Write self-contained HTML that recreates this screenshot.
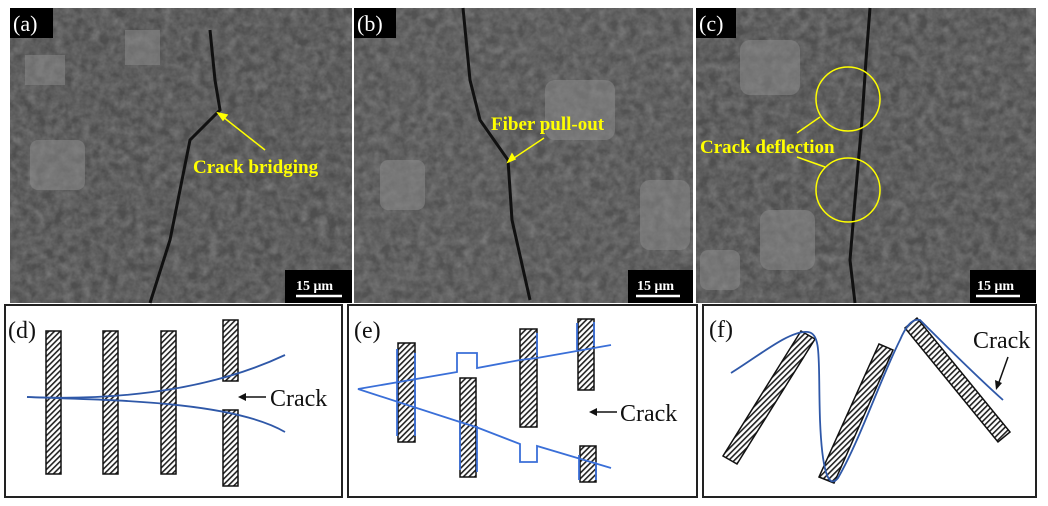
<!DOCTYPE html>
<html><head><meta charset="utf-8"><style>html,body{margin:0;padding:0;background:#fff}svg{display:block}</style></head><body>
<svg width="1048" height="506" viewBox="0 0 1048 506" xmlns="http://www.w3.org/2000/svg" font-family="Liberation Serif, serif">
<defs>
<filter id="sem" x="0" y="0" width="100%" height="100%">
<feTurbulence type="fractalNoise" baseFrequency="0.11" numOctaves="3" seed="4"/>
<feColorMatrix type="matrix" values="0 0 0 0 0.25  0 0 0 0 0.25  0 0 0 0 0.25  1 1 0 0 -0.6"/>
</filter>
<pattern id="h" width="4" height="4" patternUnits="userSpaceOnUse" patternTransform="rotate(45)">
<rect width="4" height="4" fill="#fff"/><rect width="1.6" height="4" fill="#222"/></pattern>
</defs>
<g>
<rect x="10" y="8" width="342" height="295" fill="#4e4e4e"/>
<rect x="10" y="8" width="342" height="295" fill="#fff" filter="url(#sem)" opacity="0.7"/>
<rect x="354" y="8" width="339" height="295" fill="#525252"/>
<rect x="354" y="8" width="339" height="295" fill="#fff" filter="url(#sem)" opacity="0.7"/>
<rect x="696" y="8" width="340" height="295" fill="#4f4f4f"/>
<rect x="696" y="8" width="340" height="295" fill="#fff" filter="url(#sem)" opacity="0.7"/>
<g fill="#8a8a8a" opacity="0.55">
<rect x="30" y="140" width="55" height="50" rx="8"/><rect x="125" y="30" width="35" height="35"/><rect x="25" y="55" width="40" height="30"/>
<rect x="380" y="160" width="45" height="50" rx="8"/><rect x="545" y="80" width="70" height="60" rx="10"/><rect x="640" y="180" width="50" height="70" rx="10"/>
<rect x="740" y="40" width="60" height="55" rx="10"/><rect x="760" y="210" width="55" height="60" rx="10"/><rect x="700" y="250" width="40" height="40" rx="8"/>
</g>
<path d="M210 30 L215 80 L220 110 L190 140 L180 190 L170 240 L150 303" stroke="#111" stroke-width="3" fill="none"/>
<path d="M463 8 L470 80 L480 120 L508 160 L512 220 L530 300" stroke="#111" stroke-width="3" fill="none"/>
<path d="M870 8 L866 60 L862 120 L855 200 L850 260 L855 303" stroke="#111" stroke-width="3" fill="none"/>
<rect x="10" y="8" width="43" height="30" fill="#000"/><text x="13" y="31" font-size="22" fill="#fff">(a)</text>
<rect x="354" y="8" width="42" height="30" fill="#000"/><text x="357" y="31" font-size="22" fill="#fff">(b)</text>
<rect x="696" y="8" width="40" height="30" fill="#000"/><text x="699" y="31" font-size="22" fill="#fff">(c)</text>
<g fill="#000"><rect x="285" y="270" width="67" height="33"/><rect x="628" y="270" width="65" height="33"/><rect x="970" y="270" width="66" height="33"/></g>
<g fill="#fff" font-size="14" font-weight="bold"><text x="296" y="290">15 μm</text><text x="637" y="290">15 μm</text><text x="977" y="290">15 μm</text></g>
<g stroke="#fff" stroke-width="2.5"><line x1="296" y1="296" x2="342" y2="296"/><line x1="636" y1="296" x2="680" y2="296"/><line x1="976" y1="296" x2="1020" y2="296"/></g>
<g fill="#ffff00" font-size="19" font-weight="bold">
<text x="193" y="173">Crack bridging</text>
<text x="491" y="130">Fiber pull-out</text>
<text x="700" y="153">Crack deflection</text>
</g>
<g stroke="#ffff00" stroke-width="1.5" fill="none">
<line x1="265" y1="150" x2="218" y2="113"/><path d="M218 113 l9 2 l-4 5z" fill="#ffff00"/>
<line x1="544" y1="138" x2="508" y2="162"/><path d="M508 162 l4 -8 l3 5z" fill="#ffff00"/>
<circle cx="848" cy="99" r="32"/><circle cx="848" cy="190" r="32"/>
<line x1="820" y1="117" x2="797" y2="133"/><line x1="825" y1="167" x2="797" y2="157"/>
</g>
</g>
<g fill="#fff" stroke="#222" stroke-width="2">
<rect x="5" y="305" width="337" height="192"/>
<rect x="348" y="305" width="349" height="192"/>
<rect x="703" y="305" width="333" height="192"/>
</g>
<g font-size="24" fill="#111"><text x="8" y="338">(d)</text><text x="354" y="338">(e)</text><text x="709" y="337">(f)</text></g>
<g fill="url(#h)" stroke="#111" stroke-width="1.5">
<rect x="46" y="331" width="15" height="143"/><rect x="103" y="331" width="15" height="143"/><rect x="161" y="331" width="15" height="143"/>
<rect x="223" y="320" width="15" height="61"/><rect x="223" y="410" width="15" height="76"/>
</g>
<g stroke="#2f58a8" stroke-width="1.8" fill="none">
<path d="M27 397 C100 400 200 395 285 355"/><path d="M27 397 C100 400 230 400 285 432"/>
</g>
<text x="270" y="406" font-size="24" fill="#111">Crack</text>
<line x1="240" y1="397" x2="266" y2="397" stroke="#111" stroke-width="1.5"/><path d="M238 397 l8 -4 v8z" fill="#111"/>
<g fill="url(#h)" stroke="#111" stroke-width="1.5">
<rect x="398" y="343" width="17" height="99"/><rect x="460" y="378" width="16" height="99"/><rect x="520" y="329" width="17" height="98"/>
<rect x="578" y="319" width="16" height="71"/><rect x="580" y="446" width="16" height="36"/>
</g>
<g stroke="#3a6fd8" stroke-width="1.8" fill="none">
<path d="M611 345 L537 358 L520 360 L477 368 L477 353 L457 353 L457 372 L358 389 L460 422 L476 427 L520 444 L520 462 L537 462 L537 446 L611 468"/>
<line x1="397" y1="349" x2="397" y2="436"/><line x1="415" y1="353" x2="415" y2="436"/>
<line x1="460" y1="420" x2="460" y2="470"/><line x1="477" y1="426" x2="477" y2="472"/>
<line x1="537" y1="333" x2="537" y2="356"/><line x1="577" y1="323" x2="577" y2="350"/><line x1="594" y1="322" x2="594" y2="346"/>
<line x1="579" y1="455" x2="579" y2="480"/><line x1="596" y1="462" x2="596" y2="480"/>
</g>
<text x="620" y="421" font-size="24" fill="#111">Crack</text>
<line x1="592" y1="412" x2="617" y2="412" stroke="#111" stroke-width="1.5"/><path d="M589 412 l8 -4 v8z" fill="#111"/>
<g fill="url(#h)" stroke="#111" stroke-width="1.5">
<polygon points="723,456 737,464 815,339 801,331"/>
<polygon points="819,477 834,483 893,350 879,344"/>
<polygon points="905,328 917,318 1010,432 998,442"/>
</g>
<path d="M731 373 C760 355 790 330 808 332 C822 334 818 360 820 420 C822 470 828 490 838 478 C860 440 880 380 900 340 C905 328 912 318 920 320 C945 345 975 375 1003 400" stroke="#2f58a8" stroke-width="1.8" fill="none"/>
<text x="973" y="348" font-size="24" fill="#111">Crack</text>
<line x1="1008" y1="357" x2="998" y2="385" stroke="#111" stroke-width="1.5"/><path d="M996 390 l-1 -10 l7 3z" fill="#111"/>
</svg>
</body></html>
